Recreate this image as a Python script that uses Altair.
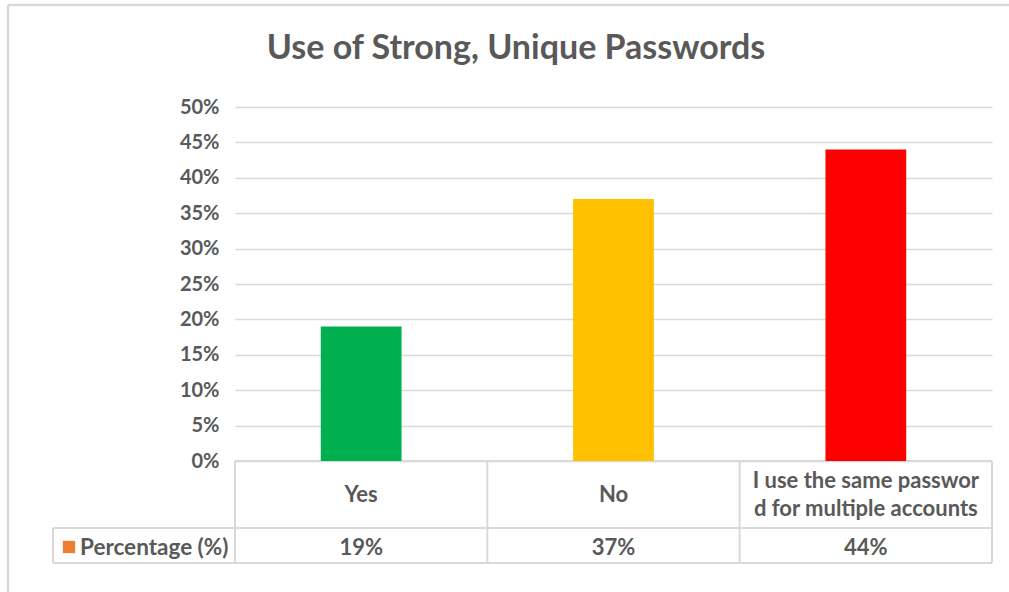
import altair as alt
import pandas as pd

categories = ["Yes", "No", "I use the same passwor\nd for multiple accounts"]
values = [0.19, 0.37, 0.44]
colors = ["#00B050", "#FFC000", "#FF0000"]
series_name = "Percentage (%)"
title_text = "Use of Strong, Unique Passwords"

df = pd.DataFrame({"cat": categories, "value": values, "color": colors})

W, H = 757, 354
FONT = "Lato"
GREY = "#595959"
LINE = "#D9D9D9"

xscale = alt.Scale(domain=categories, paddingInner=0.68, paddingOuter=0.34)
base = alt.Chart(df)

bars = base.mark_bar().encode(
    x=alt.X("cat:N", scale=xscale, axis=None, sort=categories),
    y=alt.Y("value:Q", scale=alt.Scale(domain=[0, 0.5]),
            axis=alt.Axis(format=".0%", values=[i / 100 for i in range(0, 51, 5)],
                          domain=False, ticks=False, labelPadding=16,
                          labelFont=FONT, labelFontSize=20, labelFontWeight="bold",
                          labelColor=GREY, gridColor=LINE, gridWidth=1.5, title=None)),
    color=alt.Color("color:N", scale=None),
)

cat_text = base.transform_calculate(
    ypos=f"{H + 34} - (length(split(datum.cat, '\\n')) - 1) * 14",
).mark_text(font=FONT, fontSize=22, fontWeight="bold", color=GREY, lineBreak="\n",
            baseline="middle", lineHeight=28).encode(
    x=alt.X("cat:N", scale=xscale, sort=categories),
    y=alt.Y("ypos:Q", scale=None),
    text="cat:N",
)

val_text = base.transform_calculate(lbl="format(datum.value, '.0%')").mark_text(
    font=FONT, fontSize=22, fontWeight="bold", color=GREY, baseline="middle").encode(
    x=alt.X("cat:N", scale=xscale, sort=categories),
    y=alt.value(H + 87),
    text="lbl:N",
)

one = alt.Chart(pd.DataFrame({"a": [0]}))


def hrule(x1, x2, y, w=2):
    return one.mark_rule(color=LINE, strokeWidth=w).encode(
        x=alt.value(x1), x2=alt.value(x2), y=alt.value(y))


def vrule(x, y1, y2, w=2):
    return one.mark_rule(color=LINE, strokeWidth=w).encode(
        x=alt.value(x), y=alt.value(y1), y2=alt.value(y2))


step = W / 3
table = [
    hrule(0, W, H), hrule(-182, W, H + 67), hrule(-182, W, H + 102),
    vrule(0, H, H + 102), vrule(step, H, H + 102), vrule(2 * step, H, H + 102),
    vrule(W, H, H + 102), vrule(-182, H + 67, H + 102),
]

legend_sq = alt.Chart(pd.DataFrame({"s": [series_name]})).mark_square(
    color="#ED7D31", size=150, opacity=1).encode(
    x=alt.value(-166), y=alt.value(H + 86))
legend_txt = alt.Chart(pd.DataFrame({"s": [series_name]})).mark_text(
    font=FONT, fontSize=22.5, fontWeight="bold", color=GREY, align="left", baseline="middle").encode(
    x=alt.value(-155), y=alt.value(H + 87), text="s:N")

title = alt.Chart(pd.DataFrame({"t": [title_text]})).mark_text(
    font=FONT, fontSize=34, fontWeight="bold", color=GREY, align="center", baseline="middle").encode(
    x=alt.value(281), y=alt.value(-58), text="t:N")

frame = [hrule(-227, 800, -102, 2.5), vrule(-227, -102, 500, 2.5)]

chart = alt.layer(*frame, *table, bars, cat_text, val_text,
                  legend_sq, legend_txt, title).properties(
    width=W, height=H,
    padding={"left": 235, "top": 107, "right": 17, "bottom": 131},
    autosize=alt.AutoSizeParams(type="none"),
    view=alt.ViewBackground(strokeOpacity=0, strokeWidth=0),
).configure_view(strokeWidth=0, strokeOpacity=0).configure(background="white")

chart.save("out.html", embed_options={"renderer": "svg", "actions": False})
